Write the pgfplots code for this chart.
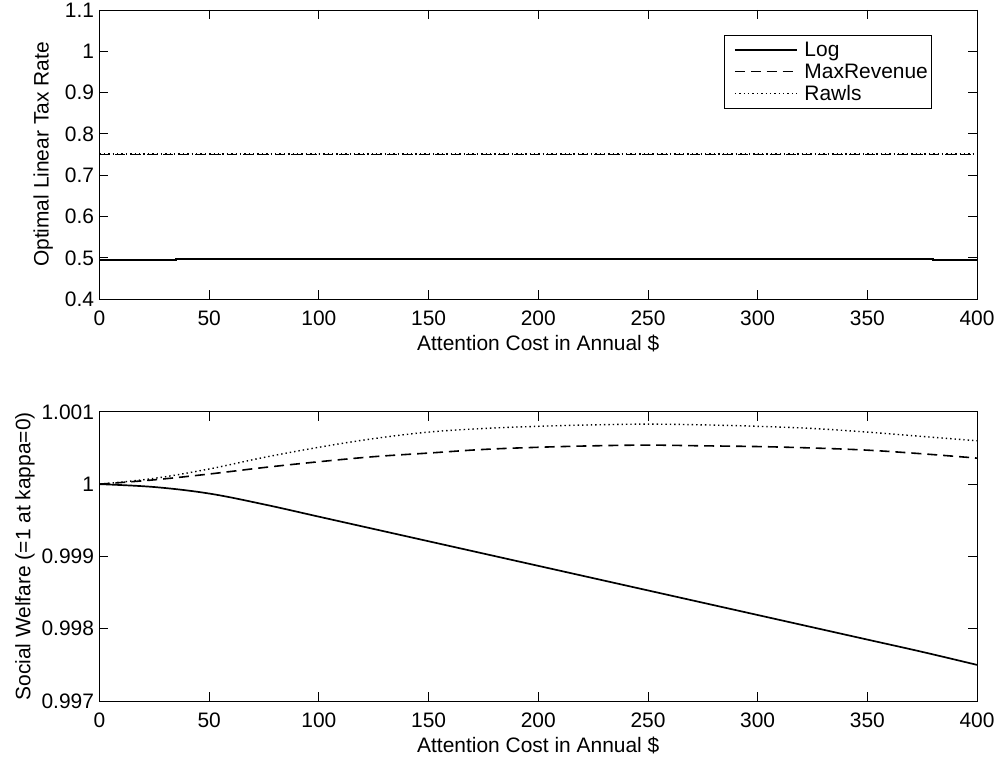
\documentclass[border=0pt]{standalone}
\usepackage{pgfplots}
\pgfplotsset{compat=1.18}
\usepackage{fontspec}
\setmainfont{Liberation Sans}
\begin{document}
\pgfplotsset{
  every axis/.append style={
    scale only axis, width=880pt, height=290pt,
    xmin=0, xmax=400, xtick={0,50,...,400},
    tick align=inside, major tick length=9pt,
    axis line style={line width=0.9pt},
    every tick/.style={black, line width=0.9pt},
    font=\fontsize{21}{25}\selectfont,
    tick label style={font=\fontsize{21}{25}\selectfont},
    label style={font=\fontsize{21}{25}\selectfont},
    /pgf/number format/assume math mode=true,
    xticklabel style={yshift=-8pt},
    yticklabel style={xshift=-2pt},
    xlabel={Attention Cost in Annual \$},
    xlabel style={yshift=-3pt},
    scaled y ticks=false,
  },
  logstyle/.style={black, line width=1.7pt},
  maxstyle/.style={black, line width=1.6pt, dash pattern=on 10pt off 6pt},
  rawlsstyle/.style={black, line width=1.4pt, dash pattern=on 1.4pt off 3pt},
}
\begin{tikzpicture}
\begin{axis}[
  at={(0,0)}, anchor=south west,
  ymin=0.4, ymax=1.1, ytick={0.4,0.5,...,1.1},
  yticklabels={0.4,0.5,0.6,0.7,0.8,0.9,1,1.1},
  ylabel={Optimal Linear Tax Rate},
  ylabel style={yshift=5pt},
  legend style={at={(0.949,0.914)}, anchor=north east, draw=black, line width=0.9pt,
    font=\fontsize{21}{25}\selectfont, row sep=1.5pt, inner xsep=2pt, inner ysep=5pt},
  legend cell align=left,
  legend image code/.code={\draw[#1] (8pt,0pt) -- (70pt,0pt); \path (0pt,0pt) (75pt,0pt);},
]
\addplot[logstyle] coordinates {(0,0.4955) (35,0.4955) (35,0.4965) (380,0.4965) (380,0.4955) (400,0.4955)};
\addlegendentry{Log}
\addplot[maxstyle] coordinates {(0,0.750) (100,0.750) (200,0.750) (300,0.750) (400,0.750)};
\addlegendentry{MaxRevenue}
\addplot[rawlsstyle] coordinates {(0,0.751) (100,0.751) (200,0.751) (300,0.751) (400,0.751)};
\addlegendentry{Rawls}
\end{axis}
\begin{axis}[
  at={(0,-113pt)}, anchor=north west,
  ymin=0.997, ymax=1.001, ytick={0.997,0.998,0.999,1,1.001},
  yticklabels={0.997,0.998,0.999,1,1.001},
  ylabel={Social Welfare (=1 at kappa=0)},
]
\addplot[logstyle, smooth, tension=0.6] coordinates {
(0,1.0) (25,0.99996) (50,0.99987) (75,0.99972) (100,0.99955) (125,0.99938)
(150,0.99921) (175,0.99904) (200,0.99887) (225,0.99870) (250,0.99853)
(275,0.99836) (300,0.99819) (325,0.99802) (350,0.99785) (375,0.99768) (400,0.99750)};
\addplot[maxstyle, smooth, tension=0.6] coordinates {
(0,1.0) (25,1.00006) (50,1.00014) (75,1.00023) (100,1.00031) (125,1.00038)
(150,1.00043) (175,1.00048) (200,1.00051) (225,1.00053) (250,1.00054)
(275,1.00053) (300,1.00052) (325,1.00050) (350,1.00047) (375,1.00042) (400,1.00036)};
\addplot[rawlsstyle, smooth, tension=0.6] coordinates {
(0,1.0) (25,1.00008) (50,1.00021) (75,1.00037) (100,1.00051) (125,1.00063)
(150,1.00072) (175,1.00077) (200,1.00080) (225,1.00082) (250,1.00083)
(275,1.00082) (300,1.00080) (325,1.00077) (350,1.00072) (375,1.00066) (400,1.00060)};
\end{axis}
\pgfresetboundingbox
\useasboundingbox (-97pt,-465pt) rectangle (899pt,300pt);
\end{tikzpicture}
\end{document}
